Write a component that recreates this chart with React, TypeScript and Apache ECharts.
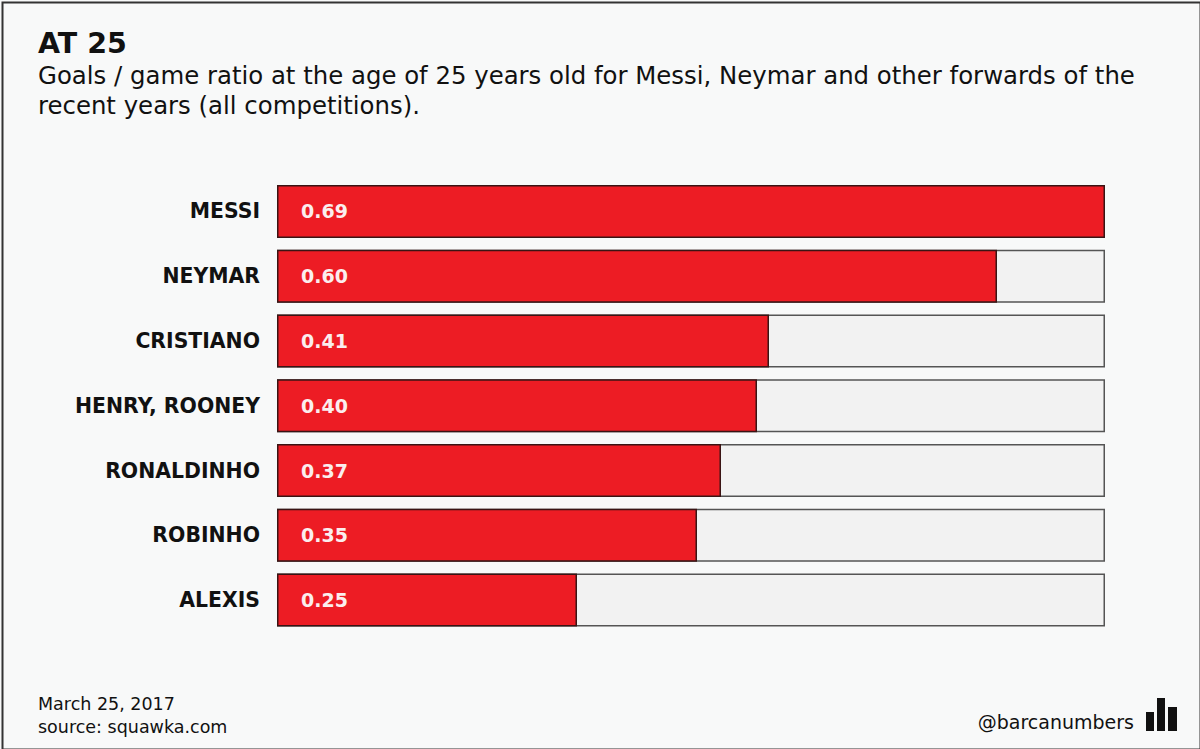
import React, { useEffect, useRef } from "react";
import * as echarts from "echarts";

const categories = ["MESSI", "NEYMAR", "CRISTIANO", "HENRY, ROONEY", "RONALDINHO", "ROBINHO", "ALEXIS"];
const ratios = [0.69, 0.6, 0.41, 0.4, 0.37, 0.35, 0.25];
const scaleMax = 0.69;
const trackValues = categories.map(() => scaleMax);

const FONT = "'DejaVu Sans', sans-serif";

export default function App() {
  const ref = useRef<HTMLDivElement>(null);
  useEffect(() => {
    document.body.style.margin = "0";
    const chart = echarts.init(ref.current!, null, { renderer: "svg" });
    chart.setOption({
      animation: false,
      backgroundColor: "#f8f9f9",
      textStyle: { fontFamily: FONT },
      grid: { left: 277, right: 95, top: 179, height: 453.5, containLabel: false },
      xAxis: {
        type: "value",
        min: 0,
        max: scaleMax,
        show: false,
      },
      yAxis: {
        type: "category",
        data: categories,
        inverse: true,
        axisLine: { show: false },
        axisTick: { show: false },
        axisLabel: {
          margin: 17,
          color: "#111",
          fontWeight: "bold",
          fontSize: 20.4,
          fontFamily: FONT,
        },
      },
      series: [
        {
          type: "bar",
          data: trackValues,
          barWidth: 53,
          barGap: "-100%",
          silent: true,
          itemStyle: { color: "#f2f2f2", borderColor: "#555", borderWidth: 1.5 },
          z: 1,
        },
        {
          type: "bar",
          data: ratios,
          barWidth: 53,
          barGap: "-100%",
          itemStyle: { color: "#ed1c24", borderColor: "#3a1414", borderWidth: 1.5 },
          label: {
            show: true,
            position: "insideLeft",
            distance: 24,
            color: "#fbeeee",
            fontWeight: "bold",
            fontSize: 19,
            fontFamily: FONT,
            formatter: (p: any) => p.value.toFixed(2),
          },
          z: 2,
        },
      ],
      graphic: [
        {
          type: "rect",
          left: 0,
          top: 0,
          shape: { x: 1, y: 1, width: 1198, height: 747 },
          style: { fill: "none", stroke: "#333", lineWidth: 2 },
          silent: true,
        },
        {
          type: "text",
          left: 38,
          top: 29,
          style: { text: "AT 25", font: `bold 28.5px ${FONT}`, fill: "#111" },
        },
        {
          type: "text",
          left: 38,
          top: 60,
          style: {
            text: "Goals / game ratio at the age of 25 years old for Messi, Neymar and other forwards of the\nrecent years (all competitions).",
            font: `24.4px ${FONT}`,
            lineHeight: 30,
            fill: "#111",
          },
        },
        {
          type: "text",
          left: 38,
          top: 692,
          style: {
            text: "March 25, 2017\nsource: squawka.com",
            font: `17.5px ${FONT}`,
            lineHeight: 23,
            fill: "#111",
          },
        },
        {
          type: "text",
          right: 66,
          top: 712,
          style: { text: "@barcanumbers", font: `19px ${FONT}`, fill: "#111" },
        },
        { type: "rect", shape: { x: 1146, y: 712, width: 8, height: 19 }, style: { fill: "#111" } },
        { type: "rect", shape: { x: 1157, y: 698, width: 8, height: 33 }, style: { fill: "#111" } },
        { type: "rect", shape: { x: 1168, y: 707, width: 9, height: 24 }, style: { fill: "#111" } },
      ],
    });
    return () => chart.dispose();
  }, []);
  return <div ref={ref} style={{ position: "fixed", left: 0, top: 0, width: 1200, height: 749 }} />;
}
